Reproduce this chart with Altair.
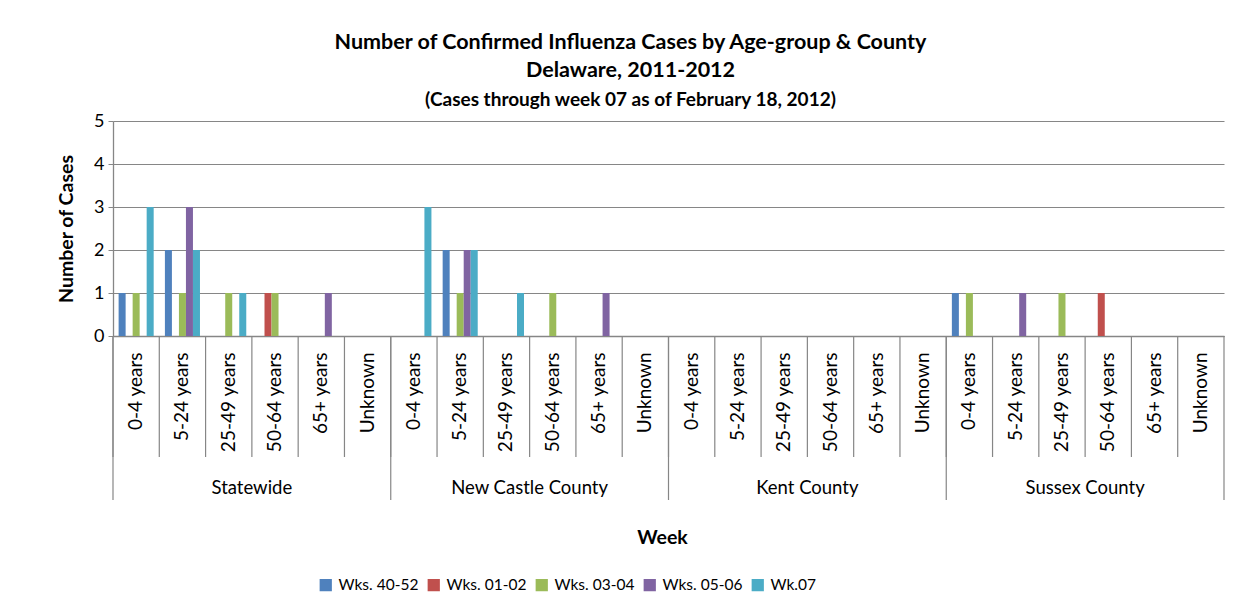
import altair as alt
import pandas as pd

series = ["Wks. 40-52", "Wks. 01-02", "Wks. 03-04", "Wks. 05-06", "Wk.07"]
colors = ["#4F81BD", "#C0504D", "#9BBB59", "#8064A2", "#4BACC6"]
counties = ["Statewide", "New Castle County", "Kent County", "Sussex County"]
ages = ["0-4 years", "5-24 years", "25-49 years", "50-64 years", "65+ years", "Unknown"]

# values per series (rows) over age groups (columns)
statewide = [
    [1, 2, 0, 0, 0, 0],
    [0, 0, 0, 1, 0, 0],
    [1, 1, 1, 1, 0, 0],
    [0, 3, 0, 0, 1, 0],
    [3, 2, 1, 0, 0, 0],
]
new_castle = [
    [0, 2, 0, 0, 0, 0],
    [0, 0, 0, 0, 0, 0],
    [0, 1, 0, 1, 0, 0],
    [0, 2, 0, 0, 1, 0],
    [3, 2, 1, 0, 0, 0],
]
kent = [
    [0, 0, 0, 0, 0, 0],
    [0, 0, 0, 0, 0, 0],
    [0, 0, 0, 0, 0, 0],
    [0, 0, 0, 0, 0, 0],
    [0, 0, 0, 0, 0, 0],
]
sussex = [
    [1, 0, 0, 0, 0, 0],
    [0, 0, 0, 1, 0, 0],
    [1, 0, 1, 0, 0, 0],
    [0, 1, 0, 0, 0, 0],
    [0, 0, 0, 0, 0, 0],
]

FONT = "Lato"
GRAY = "#868686"
W, H = 1111, 215

rows = []
for c, table in zip(counties, [statewide, new_castle, kent, sussex]):
    for s, vals in zip(series, table):
        for a, v in zip(ages, vals):
            rows.append({"key": f"{c}|{a}", "county": c, "age": a, "series": s, "cases": v})
df = pd.DataFrame(rows)
keys = [f"{c}|{a}" for c in counties for a in ages]

xscale = alt.Scale(domain=keys, paddingInner=0, paddingOuter=0)
xaxis = alt.Axis(
    title="Week", labelExpr="split(datum.value, '|')[1]", labelAngle=270,
    ticks=False, labelPadding=16, labelFontSize=19, labelFont=FONT, labelColor="black",
    domainColor=GRAY, domainWidth=1.3, titleFont=FONT, titleFontSize=19.5,
    titleFontWeight="bold", titleColor="black", titleY=201, titleX=549,
    titleBaseline="middle", labelLimit=200, labelOverlap=False)

bars = alt.Chart(df).mark_bar().encode(
    x=alt.X("key:N", scale=xscale, axis=xaxis),
    xOffset=alt.XOffset("series:N", scale=alt.Scale(domain=series, paddingOuter=0.8, paddingInner=0)),
    y=alt.Y("cases:Q", scale=alt.Scale(domain=[0, 5]), axis=alt.Axis(
        values=[0, 1, 2, 3, 4, 5], format="d", title="Number of Cases", gridColor=GRAY,
        gridWidth=1.2, domainColor=GRAY, domainWidth=1.3, tickColor=GRAY, tickSize=5,
        labelFontSize=18, labelFont=FONT, labelColor="black", labelPadding=4,
        titleFont=FONT, titleFontSize=19.5, titleFontWeight="bold", titleColor="black",
        titlePadding=17)),
    color=alt.Color("series:N", scale=alt.Scale(domain=series, range=colors), legend=alt.Legend(
        title=None, orient="none", legendX=205, legendY=456, direction="horizontal",
        symbolType="square", symbolSize=150, symbolStrokeWidth=0, labelFontSize=15.5,
        labelFont=FONT, labelColor="black", columnPadding=7, labelOffset=5)),
)

keydf = pd.DataFrame({"key": keys})
short_rules = alt.Chart(keydf).mark_rule(color=GRAY, strokeWidth=1.2).encode(
    x=alt.X("key:N", scale=xscale, bandPosition=0, axis=xaxis),
    y=alt.value(H), y2=alt.value(H + 121),
)

startdf = pd.DataFrame({"key": [f"{c}|{ages[0]}" for c in counties]})
long_rules = alt.Chart(startdf).mark_rule(color=GRAY, strokeWidth=1.2).encode(
    x=alt.X("key:N", scale=xscale, bandPosition=0, axis=xaxis),
    y=alt.value(H), y2=alt.value(H + 164),
)
enddf = pd.DataFrame({"key": [f"{counties[-1]}|{ages[-1]}"]})
end_rule = alt.Chart(enddf).mark_rule(color=GRAY, strokeWidth=1.2).encode(
    x=alt.X("key:N", scale=xscale, bandPosition=1, axis=xaxis),
    y=alt.value(H), y2=alt.value(H + 164),
)

countydf = pd.DataFrame({"key": [f"{c}|{ages[2]}" for c in counties], "county": counties})
county_text = alt.Chart(countydf).mark_text(
    font=FONT, fontSize=18.5, color="black", baseline="middle", align="center"
).encode(
    x=alt.X("key:N", scale=xscale, bandPosition=1, axis=xaxis),
    y=alt.value(H + 152),
    text="county:N",
)

chart = alt.layer(bars, short_rules, long_rules, end_rule, county_text).properties(
    width=W, height=H,
    autosize=alt.AutoSizeParams(type="none"),
    padding={"left": 105, "top": 113, "right": 11, "bottom": 268},
    title=alt.TitleParams(
        text=["Number of Confirmed Influenza Cases by Age-group & County", "Delaware, 2011-2012"],
        subtitle="(Cases through week 07 as of February 18, 2012)",
        font=FONT, fontSize=21.5, fontWeight="bold", lineHeight=28, color="black",
        subtitleFont=FONT, subtitleFontSize=19, subtitleFontWeight="bold", subtitleColor="black",
        subtitlePadding=10, anchor="middle", dx=-38, offset=2,
    ),
).configure_view(strokeWidth=0)

chart.save("out.html", embed_options={"renderer": "svg", "actions": False})
